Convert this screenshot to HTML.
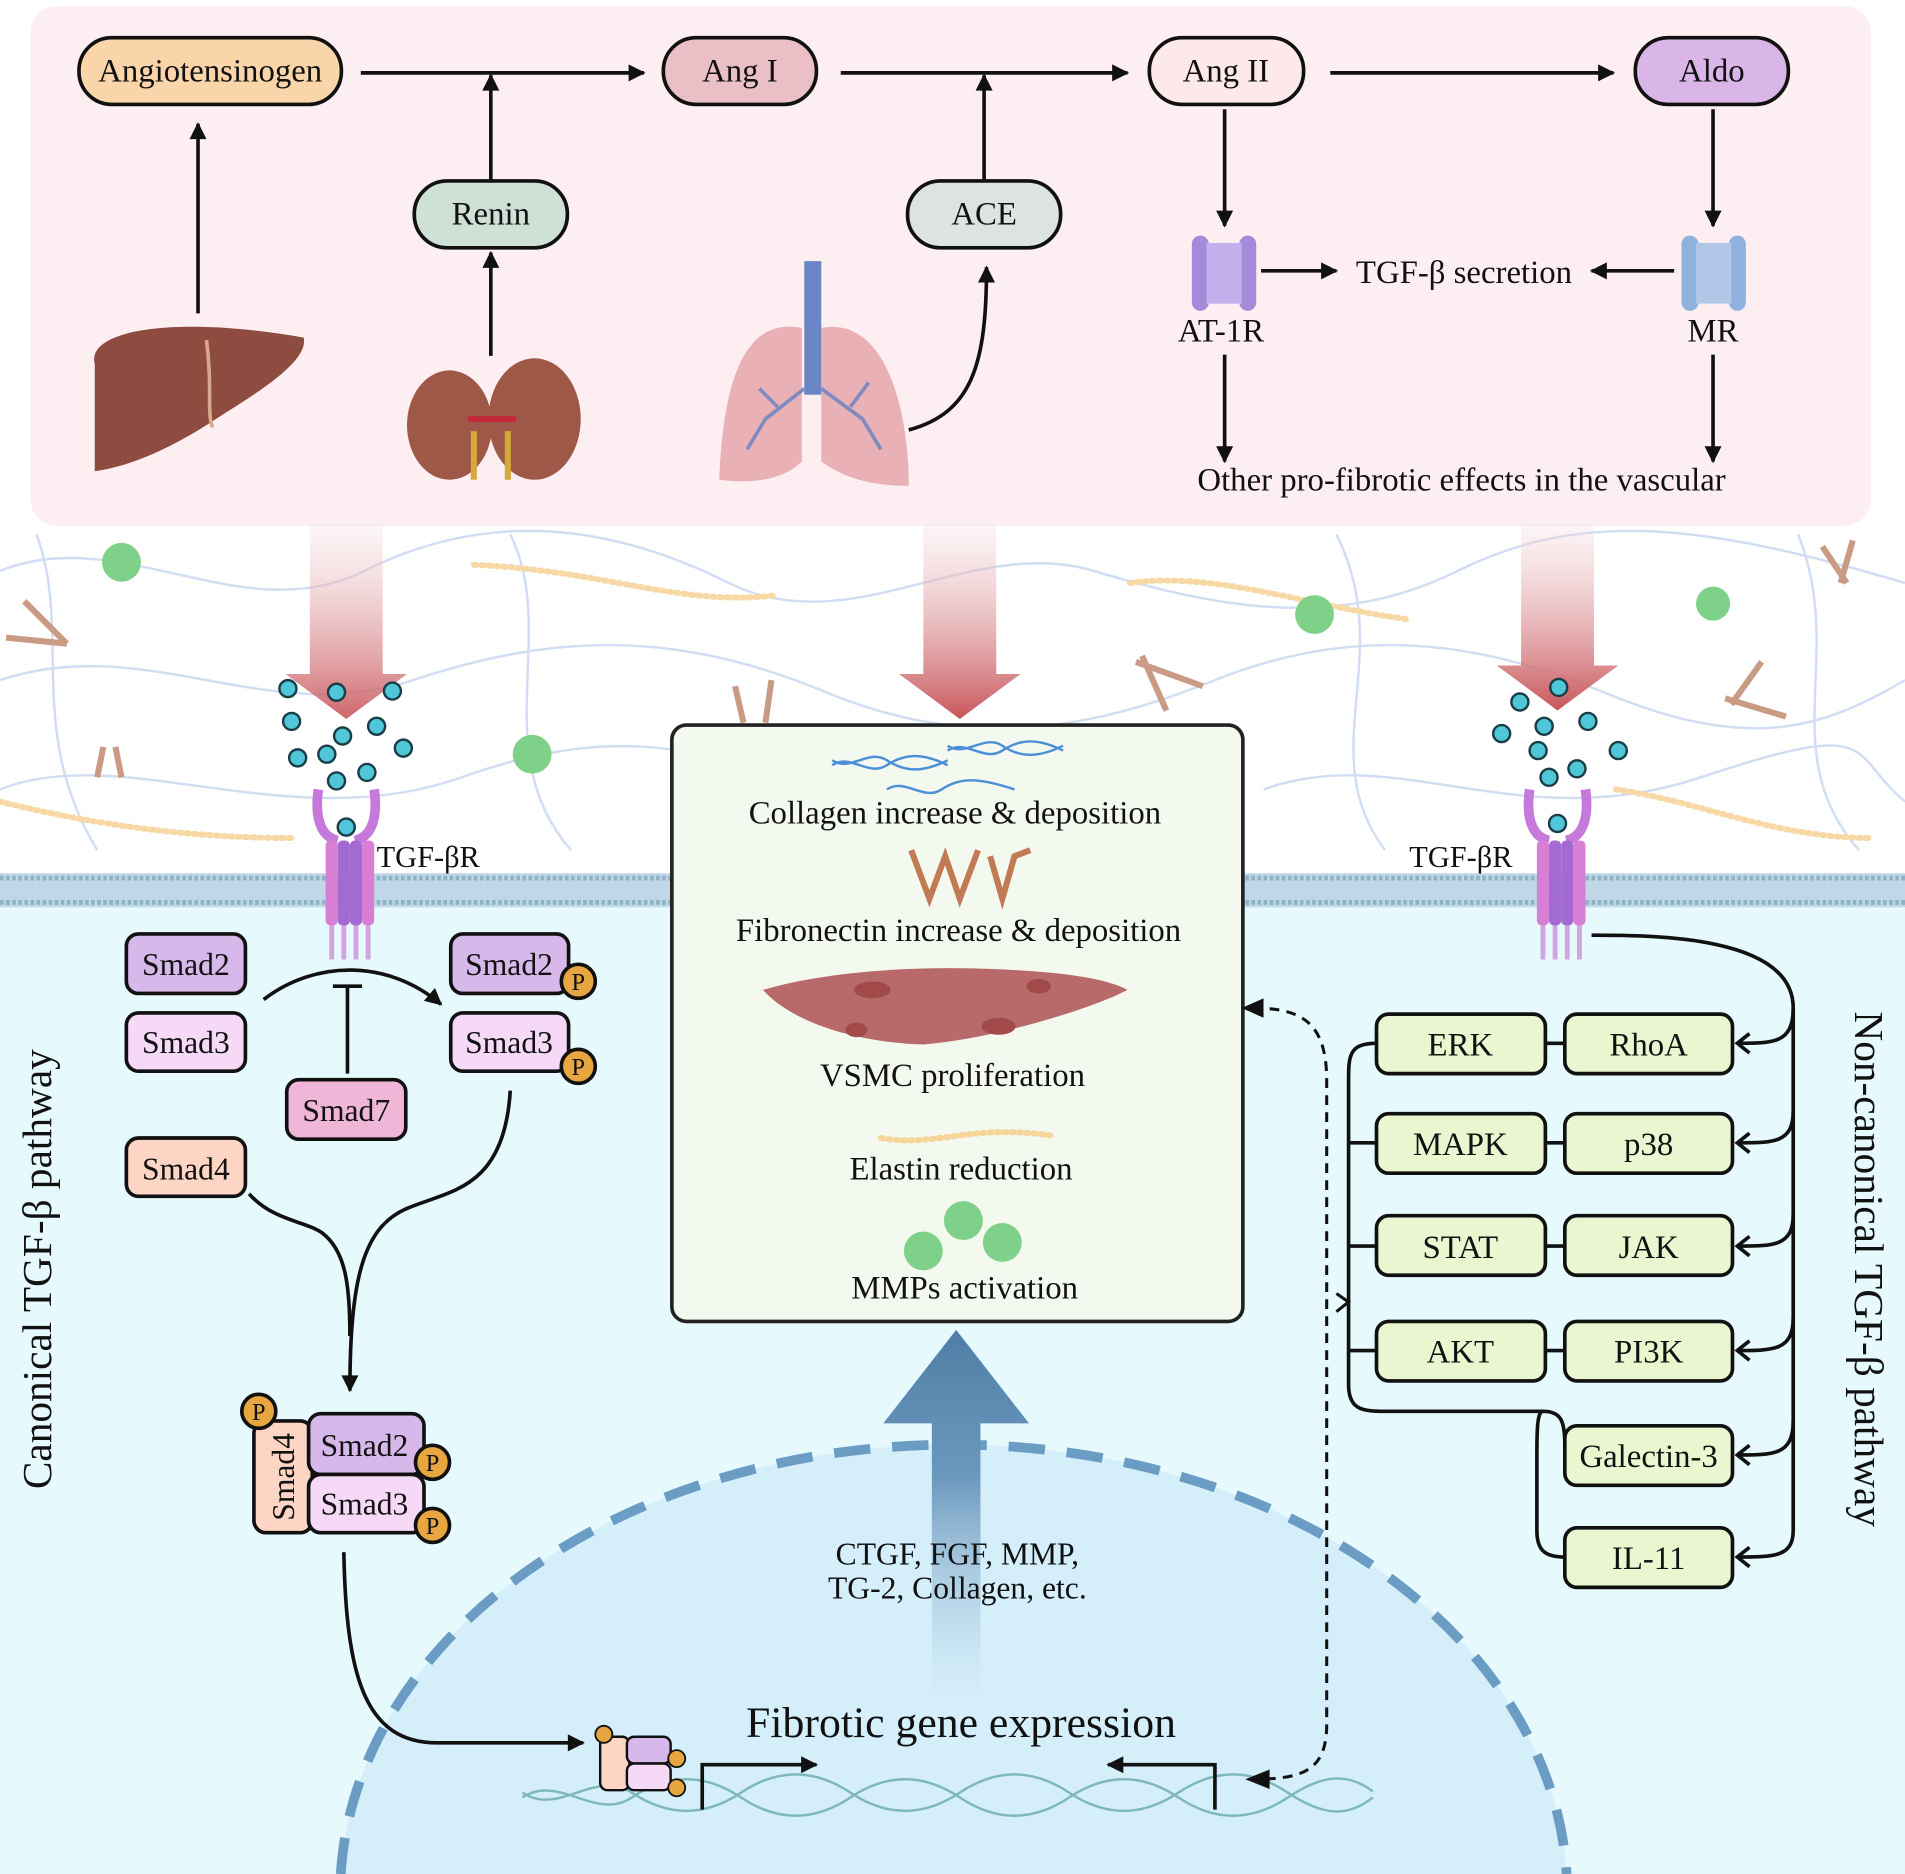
<!DOCTYPE html>
<html><head><meta charset="utf-8"><style>
html,body{margin:0;padding:0;background:#fff;width:1905px;height:1874px;overflow:hidden}
svg{display:block}
text{font-family:"Liberation Serif",serif;fill:#111}
</style></head><body>
<svg width="1905" height="1874" viewBox="0 0 1568 1543" preserveAspectRatio="none" xmlns="http://www.w3.org/2000/svg">
<defs>
<marker id="ab" viewBox="0 0 10 10" markerWidth="22" markerHeight="14" refX="9" refY="5" orient="auto" markerUnits="userSpaceOnUse"><path d="M0,0 L10,5 L0,10 Z" fill="#111"/></marker>
<linearGradient id="rg" x1="0" y1="0" x2="0" y2="1"><stop offset="0" stop-color="#f5dce0" stop-opacity="0.3"/><stop offset="1" stop-color="#c8565a"/></linearGradient>
<linearGradient id="bg" x1="0" y1="1" x2="0" y2="0"><stop offset="0" stop-color="#d6eefa" stop-opacity="0.3"/><stop offset="0.6" stop-color="#6c98bd"/><stop offset="1" stop-color="#4f7ea6"/></linearGradient>
</defs>
<rect width="1568" height="1543" fill="#fff"/>
<g fill="none" stroke="#c6d5ef" stroke-width="2" opacity="0.8">
<path d="M0,470 C100,430 200,520 300,470 S500,430 600,480 S800,440 900,470 S1100,520 1200,470 S1400,430 1568,480"/>
<path d="M0,560 C120,520 220,600 340,560 S560,520 680,570 S900,600 1000,560 S1200,520 1320,570 S1500,600 1568,560"/>
<path d="M0,650 C100,610 240,690 380,640 S600,620 700,670 M1040,650 C1150,610 1250,690 1400,640 S1520,620 1568,660"/>
<path d="M30,440 C60,520 20,600 80,700 M420,440 C460,520 400,620 470,700 M1100,440 C1150,540 1080,620 1140,700 M1480,440 C1520,540 1460,620 1530,700"/>
</g>
<g fill="none" stroke="#f7d9a6" stroke-width="5" stroke-dasharray="2 4" stroke-linecap="round">
<path d="M390,465 C500,470 560,500 640,490"/><path d="M930,480 C1000,470 1080,500 1160,510"/>
<path d="M0,660 C80,680 160,690 240,690"/><path d="M1330,650 C1400,660 1460,690 1540,690"/>
</g>
<g fill="#7fd18a"><circle cx="100" cy="463" r="16"/><circle cx="438" cy="621" r="16"/><circle cx="1082" cy="506" r="16"/><circle cx="1410" cy="497" r="14"/></g>
<g stroke="#c99a84" stroke-width="5"><path d="M20,495 L55,530 M5,525 L55,530"/><path d="M935,545 L990,565 M940,540 L960,585"/><path d="M1420,575 L1470,590 M1425,580 L1450,545"/><path d="M1500,450 L1520,480 M1525,445 L1515,480"/><path d="M85,615 L80,640 M95,615 L100,640"/><path d="M605,565 L612,595 M635,560 L630,595"/></g>
<rect x="0" y="732" width="1568" height="811" fill="#e6fafd"/>
<path d="M280.5,1543 A505,370 0 0 1 1289.5,1543 Z" fill="#d4eefa"/>
<path d="M280.5,1543 A505,370 0 0 1 1289.5,1543" fill="none" stroke="#6a9cc4" stroke-width="8" stroke-dasharray="30 18"/>
<rect x="0" y="719" width="1568" height="28" fill="#bfd7e6"/>
<line x1="0" y1="723" x2="1568" y2="723" stroke="#8fb3c6" stroke-width="4" stroke-dasharray="3 2"/>
<line x1="0" y1="743" x2="1568" y2="743" stroke="#8fb3c6" stroke-width="4" stroke-dasharray="3 2"/>
<rect x="25" y="5" width="1515" height="428" rx="22" fill="#fdeef2"/>
<g fill="url(#rg)"><path d="M255,432 H315 V555 H335 L285,592 L235,555 H255Z" opacity="0.9"/><path d="M760,432 H820 V555 H840 L790,592 L740,555 H760Z"/><path d="M1252,432 H1312 V548 H1332 L1282,585 L1232,548 H1252Z"/></g>
<g stroke="#111" stroke-width="3">
<rect x="65" y="31" width="216" height="55" rx="27" fill="#f9d5a9"/>
<rect x="546" y="31" width="126" height="55" rx="27" fill="#ebbfc6"/>
<rect x="946" y="31" width="127" height="55" rx="27" fill="#fde8ea"/>
<rect x="1346" y="31" width="126" height="55" rx="27" fill="#d9b5e8"/>
<rect x="341" y="149" width="126" height="55" rx="27" fill="#cfe0d6"/>
<rect x="747" y="149" width="126" height="55" rx="27" fill="#dde3de"/>
</g>
<g font-size="27" text-anchor="middle">
<text x="173" y="67">Angiotensinogen</text><text x="609" y="67">Ang I</text><text x="1009" y="67">Ang II</text><text x="1409" y="67">Aldo</text>
<text x="404" y="185">Renin</text><text x="810" y="185">ACE</text>
<text x="1205" y="233">TGF-β secretion</text><text x="1005" y="281">AT-1R</text><text x="1410" y="281">MR</text>
<text x="1203" y="404">Other pro-fibrotic effects in the vascular</text>
</g>
<g stroke="#111" stroke-width="3" fill="none" marker-end="url(#ab)">
<path d="M297,60 H530"/><path d="M692,60 H928"/><path d="M1095,60 H1328"/>
<path d="M163,258 V102"/><path d="M404,293 V208"/><path d="M404,148 V62"/><path d="M810,148 V62"/>
<path d="M748,354 C800,340 812,300 812,220"/>
<path d="M1008,90 V186"/><path d="M1410,90 V186"/>
<path d="M1038,223 H1100"/><path d="M1378,223 H1310"/>
<path d="M1008,292 V380"/><path d="M1410,292 V380"/>
</g>
<path d="M78,300 C70,270 150,260 250,278 C255,300 200,330 170,350 C130,375 100,385 78,388 Z" fill="#8e4b3f"/>
<path d="M170,280 C175,320 170,340 175,352" stroke="#d7a88d" stroke-width="3" fill="none"/>
<ellipse cx="370" cy="350" rx="35" ry="45" fill="#9e5847"/><ellipse cx="440" cy="345" rx="38" ry="50" fill="#9e5847"/>
<path d="M390,345 H420 M390,355 V395 M418,355 V395" stroke="#d4a93b" stroke-width="5"/><path d="M385,345 H425" stroke="#c42a3a" stroke-width="5"/>
<path d="M660,270 C610,260 595,320 592,395 C630,400 650,390 660,380 Z" fill="#e9b1b5"/>
<path d="M676,270 C730,260 748,340 748,400 C710,400 690,390 676,380 Z" fill="#e9b1b5"/>
<rect x="662" y="215" width="14" height="110" fill="#6b86c4"/>
<g stroke="#7f8bbf" stroke-width="3" fill="none"><path d="M662,320 L630,345 L615,370 M640,335 L625,320"/><path d="M676,320 L710,345 L725,370 M700,335 L715,315"/></g>
<g><rect x="981" y="194" width="14" height="62" rx="7" fill="#a48ad8"/><rect x="1020" y="194" width="14" height="62" rx="7" fill="#a48ad8"/><rect x="993" y="200" width="29" height="50" fill="#c4b0ec"/></g>
<g><rect x="1384" y="194" width="14" height="62" rx="7" fill="#8fb1de"/><rect x="1423" y="194" width="14" height="62" rx="7" fill="#8fb1de"/><rect x="1396" y="200" width="29" height="50" fill="#b0c7e8"/></g>
<g fill="#4fc7d8" stroke="#1b3d48" stroke-width="2">
<circle cx="237" cy="567" r="7"/><circle cx="277" cy="570" r="7"/><circle cx="323" cy="569" r="7"/><circle cx="240" cy="594" r="7"/><circle cx="282" cy="606" r="7"/><circle cx="310" cy="598" r="7"/><circle cx="245" cy="624" r="7"/><circle cx="269" cy="621" r="7"/><circle cx="332" cy="616" r="7"/><circle cx="277" cy="643" r="7"/><circle cx="302" cy="636" r="7"/><circle cx="285" cy="681" r="7"/>
<circle cx="1251" cy="578" r="7"/><circle cx="1283" cy="566" r="7"/><circle cx="1236" cy="604" r="7"/><circle cx="1271" cy="598" r="7"/><circle cx="1307" cy="594" r="7"/><circle cx="1266" cy="618" r="7"/><circle cx="1332" cy="618" r="7"/><circle cx="1275" cy="640" r="7"/><circle cx="1298" cy="633" r="7"/><circle cx="1282" cy="678" r="7"/>
</g>
<g id="r1">
<path d="M262,650 C258,680 268,690 278,692 M308,650 C312,680 302,690 292,692" stroke="#c57adb" stroke-width="8" fill="none"/>
<rect x="268" y="692" width="10" height="70" rx="4" fill="#d77fd4"/><rect x="278" y="692" width="10" height="70" rx="4" fill="#a36bd1"/>
<rect x="288" y="692" width="10" height="70" rx="4" fill="#a36bd1"/><rect x="298" y="692" width="10" height="70" rx="4" fill="#d77fd4"/>
<path d="M273,762 V790 M283,762 V790 M293,762 V790 M303,762 V790" stroke="#d3a5e0" stroke-width="4"/>
</g>
<use href="#r1" transform="translate(997,0)"/>
<text x="310" y="714" font-size="25">TGF-βR</text>
<text x="1160" y="714" font-size="25">TGF-βR</text>
<rect x="553" y="597" width="470" height="491" rx="12" fill="#f4f9f0" stroke="#222" stroke-width="3"/>
<g stroke="#4a8fd8" stroke-width="2" fill="none"><path d="M685,630 C700,620 715,640 730,630 S760,620 780,630"/><path d="M685,626 C700,636 715,616 730,626 S760,636 780,626"/><path d="M780,618 C795,608 810,628 825,618 S855,608 875,618"/><path d="M780,614 C795,624 810,604 825,614 S855,624 875,614"/><path d="M730,650 C745,640 760,660 775,650 S805,640 835,650"/></g>
<path d="M750,700 L765,740 L778,705 L790,740 L805,700 M815,705 L825,740 L835,705 L848,700" stroke="#c27a55" stroke-width="5" fill="none"/>
<path d="M628,815 C680,800 750,795 820,798 C870,800 910,805 928,815 C900,830 820,855 760,860 C700,858 650,840 628,815 Z" fill="#b86a6a"/>
<g fill="#a24a4a"><ellipse cx="718" cy="815" rx="15" ry="7"/><ellipse cx="822" cy="845" rx="14" ry="7"/><ellipse cx="855" cy="812" rx="10" ry="6"/><ellipse cx="705" cy="848" rx="9" ry="6"/></g>
<path d="M725,937 C770,945 800,925 865,935" stroke="#f5d59a" stroke-width="5" stroke-dasharray="2 4" fill="none" stroke-linecap="round"/>
<g fill="#7fd18a"><circle cx="760" cy="1030" r="16"/><circle cx="793" cy="1005" r="16"/><circle cx="825" cy="1023" r="16"/></g>
<g font-size="27" text-anchor="middle">
<text x="786" y="678">Collagen increase &amp; deposition</text>
<text x="789" y="775">Fibronectin increase &amp; deposition</text>
<text x="784" y="894">VSMC proliferation</text>
<text x="791" y="971">Elastin reduction</text>
<text x="794" y="1069">MMPs activation</text>
</g>
<path d="M767,1400 V1172 H727 L787,1095 L847,1172 H807 V1400 Z" fill="url(#bg)"/>
<g font-size="26" text-anchor="middle"><text x="788" y="1288">CTGF, FGF, MMP,</text><text x="788" y="1316">TG-2, Collagen, etc.</text></g>
<text x="791" y="1430" font-size="36" text-anchor="middle">Fibrotic gene expression</text>
<g fill="none" stroke="#7fb8b8" stroke-width="2"><path d="M430,1480 C460,1460 490,1500 520,1480 S580,1460 610,1480 S670,1500 700,1480 S760,1460 790,1480 S850,1500 880,1480 S940,1460 970,1480 S1030,1500 1060,1480 S1110,1460 1130,1475"/><path d="M430,1476 C460,1496 490,1456 520,1476 S580,1496 610,1476 S670,1456 700,1476 S760,1496 790,1476 S850,1456 880,1476 S940,1496 970,1476 S1030,1456 1060,1476 S1110,1496 1130,1480"/></g>
<g stroke="#111" stroke-width="3" fill="none" marker-end="url(#ab)"><path d="M578,1490 V1453 H672"/><path d="M1000,1490 V1453 H912"/></g>
<rect x="494" y="1430" width="24" height="44" rx="6" fill="#fcd5c5" stroke="#111" stroke-width="2"/>
<rect x="516" y="1430" width="36" height="22" rx="6" fill="#d7b8ea" stroke="#111" stroke-width="2"/>
<rect x="516" y="1452" width="36" height="22" rx="6" fill="#f5d9f7" stroke="#111" stroke-width="2"/>
<g fill="#e8a640" stroke="#111" stroke-width="1.5"><circle cx="497" cy="1428" r="7"/><circle cx="557" cy="1448" r="7"/><circle cx="557" cy="1472" r="7"/></g>
<g stroke="#111" stroke-width="3">
<rect x="104" y="769" width="98" height="49" rx="10" fill="#d7b8ea"/>
<rect x="104" y="834" width="98" height="48" rx="10" fill="#f5d9f7"/>
<rect x="371" y="769" width="97" height="49" rx="10" fill="#d7b8ea"/>
<rect x="371" y="834" width="97" height="48" rx="10" fill="#f5d9f7"/>
<rect x="236" y="889" width="98" height="49" rx="10" fill="#f0b6d8"/>
<rect x="104" y="937" width="98" height="48" rx="10" fill="#fcd5c5"/>
<rect x="209" y="1170" width="48" height="92" rx="10" fill="#fcd5c5"/>
<rect x="254" y="1164" width="95" height="50" rx="10" fill="#d7b8ea"/>
<rect x="254" y="1214" width="95" height="48" rx="10" fill="#f5d9f7"/>
</g>
<g font-size="26" text-anchor="middle">
<text x="153" y="803">Smad2</text><text x="153" y="867">Smad3</text><text x="419" y="803">Smad2</text><text x="419" y="867">Smad3</text>
<text x="285" y="923">Smad7</text><text x="153" y="971">Smad4</text>
<text x="300" y="1199">Smad2</text><text x="300" y="1247">Smad3</text>
<text transform="translate(242,1216) rotate(-90)">Smad4</text>
</g>
<g fill="#e8a640" stroke="#111" stroke-width="3"><circle cx="476" cy="808" r="14"/><circle cx="476" cy="878" r="14"/><circle cx="213" cy="1162" r="14"/><circle cx="356" cy="1204" r="14"/><circle cx="356" cy="1256" r="14"/></g>
<g font-size="20" text-anchor="middle"><text x="476" y="815">P</text><text x="476" y="885">P</text><text x="213" y="1169">P</text><text x="356" y="1211">P</text><text x="356" y="1263">P</text></g>
<g stroke="#111" stroke-width="3" fill="none">
<path d="M217,823 C260,790 320,790 363,827" marker-end="url(#ab)"/>
<path d="M286,884 V812 M274,812 H298"/>
<path d="M420,898 C415,980 370,980 335,995 C300,1010 288,1050 288,1145" marker-end="url(#ab)"/>
<path d="M205,983 C225,1005 250,1005 265,1015 C285,1030 288,1060 288,1100"/>
<path d="M283,1278 C285,1380 300,1435 360,1435 H480" marker-end="url(#ab)"/>
</g>
<g stroke="#111" stroke-width="3">
<path d="M1272,859 H1288 M1272,941 H1288 M1272,1026 H1288 M1272,1112 H1288" fill="none"/>
<path d="M1133,859 C1110,859 1110,870 1110,890 V1140 C1110,1160 1120,1162 1140,1162 H1270 C1285,1162 1288,1170 1288,1190 M1270,1162 C1265,1162 1265,1180 1265,1200 V1260 C1265,1275 1270,1282 1288,1282 M1110,941 H1133 M1110,1026 H1133 M1110,1112 H1133" fill="none"/>
<path d="M1310,770 C1360,770 1476,770 1476,830 V1260 C1476,1282 1460,1282 1430,1282" fill="none"/>
<path d="M1476,830 C1476,859 1460,859 1430,859 M1476,915 C1476,941 1460,941 1430,941 M1476,1000 C1476,1026 1460,1026 1430,1026 M1476,1085 C1476,1112 1460,1112 1430,1112 M1476,1170 C1476,1198 1460,1198 1430,1198" fill="none"/>
<g fill="#eaf6d0">
<rect x="1133" y="835" width="139" height="49" rx="10"/><rect x="1288" y="835" width="138" height="49" rx="10"/>
<rect x="1133" y="917" width="139" height="49" rx="10"/><rect x="1288" y="917" width="138" height="49" rx="10"/>
<rect x="1133" y="1001" width="139" height="49" rx="10"/><rect x="1288" y="1001" width="138" height="49" rx="10"/>
<rect x="1133" y="1088" width="139" height="49" rx="10"/><rect x="1288" y="1088" width="138" height="49" rx="10"/>
<rect x="1288" y="1174" width="138" height="49" rx="10"/><rect x="1288" y="1258" width="138" height="49" rx="10"/>
</g></g>
<path d="M1440,851 L1430,859 L1440,867 M1440,933 L1430,941 L1440,949 M1440,1018 L1430,1026 L1440,1034 M1440,1104 L1430,1112 L1440,1120 M1440,1190 L1430,1198 L1440,1206 M1440,1274 L1430,1282 L1440,1290" stroke="#111" stroke-width="3" fill="none"/>
<g font-size="27" text-anchor="middle">
<text x="1202" y="869">ERK</text><text x="1357" y="869">RhoA</text><text x="1202" y="951">MAPK</text><text x="1357" y="951">p38</text>
<text x="1202" y="1036">STAT</text><text x="1357" y="1036">JAK</text><text x="1202" y="1122">AKT</text><text x="1357" y="1122">PI3K</text>
<text x="1357" y="1208">Galectin-3</text><text x="1357" y="1292">IL-11</text>
</g>
<path d="M1028,1465 C1070,1465 1092,1460 1092,1420 V890 C1092,840 1070,830 1030,830" stroke="#111" stroke-width="2.5" fill="none" stroke-dasharray="8 6"/>
<path d="M1040,822 L1022,830 L1040,838 Z M1045,1457 L1025,1465 L1045,1473 Z" fill="#111"/>
<path d="M1100,1065 L1110,1072 L1100,1080" stroke="#111" stroke-width="2.5" fill="none"/>
<text transform="translate(42,1045) rotate(-90)" font-size="34" text-anchor="middle">Canonical TGF-β pathway</text>
<text transform="translate(1527,1045) rotate(90)" font-size="34" text-anchor="middle">Non-canonical TGF-β pathway</text>
</svg>
</body></html>
